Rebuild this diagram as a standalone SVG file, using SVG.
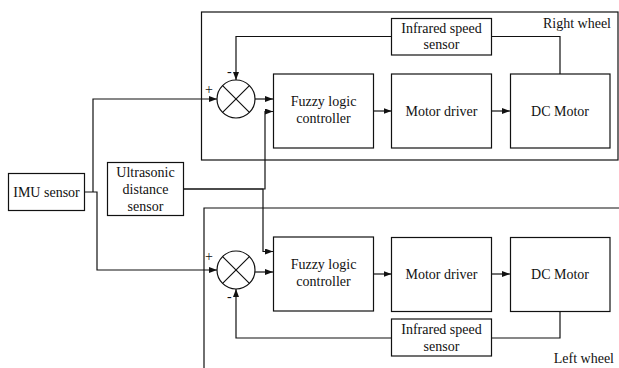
<svg xmlns="http://www.w3.org/2000/svg" width="619" height="368" viewBox="0 0 619 368">
  <defs>
    <marker id="arrow" viewBox="0 0 8 6" refX="8" refY="3" markerWidth="8" markerHeight="6" markerUnits="userSpaceOnUse" orient="auto">
      <path d="M0,0 L8,3 L0,6 Z" fill="#111"/>
    </marker>
    <style>
      .box { fill: #fff; stroke: #111; stroke-width: 1.2; }
      .frame { fill: none; stroke: #111; stroke-width: 1.2; }
      .wire { fill: none; stroke: #111; stroke-width: 1.2; }
      .arr { marker-end: url(#arrow); }
      .sum { fill: #fff; stroke: #111; stroke-width: 1.2; }
    </style>
  </defs>

  <!-- wheel frames -->
  <g id="right-wheel-frame">
    <rect class="frame" x="201.5" y="12" width="416.5" height="148"/>
    <text x="611" y="28" font-family="Liberation Serif" font-size="14" fill="#111" text-anchor="end">Right wheel</text>
  </g>
  <g id="left-wheel-frame">
    <path class="frame" d="M204,368 V208 H619"/>
    <text x="614" y="363" font-family="Liberation Serif" font-size="14" fill="#111" text-anchor="end">Left wheel</text>
  </g>

  <!-- connectors -->
  <g id="connectors">
    <!-- IMU to both summing junctions -->
    <path class="wire arr" d="M93,192 V99 H217"/>
    <path class="wire arr" d="M84,192 H97 V270 H217"/>
    <!-- ultrasonic to both controllers -->
    <path class="wire arr" d="M183,189 H265 V111.5 H273"/>
    <path class="wire arr" d="M183,189 H263 V251.5 H273"/>
    <!-- right wheel chain -->
    <path class="wire arr" d="M255,99 H273"/>
    <path class="wire arr" d="M373,111 H391.5"/>
    <path class="wire arr" d="M491.5,111 H510"/>
    <path class="wire" d="M560,74 V36.5 H491.5"/>
    <path class="wire arr" d="M391.5,36.5 H236 V80"/>
    <!-- left wheel chain -->
    <path class="wire arr" d="M255,272 H273"/>
    <path class="wire arr" d="M373,274 H391.5"/>
    <path class="wire arr" d="M491.5,274 H510"/>
    <path class="wire" d="M560,311 V338 H491.5"/>
    <path class="wire arr" d="M391.5,338 H236 V289"/>
  </g>

  <!-- shared sensors -->
  <g id="imu-sensor">
    <rect class="box" x="8.5" y="173.5" width="76" height="37"/>
    <text x="46.5" y="197" font-family="Liberation Serif" font-size="14" fill="#111" text-anchor="middle">IMU sensor</text>
  </g>
  <g id="ultrasonic-sensor">
    <rect class="box" x="107.5" y="162.5" width="76" height="53"/>
    <text x="145.5" y="177" font-family="Liberation Serif" font-size="14" fill="#111" text-anchor="middle">Ultrasonic</text>
    <text x="145.5" y="194" font-family="Liberation Serif" font-size="14" fill="#111" text-anchor="middle">distance</text>
    <text x="145.5" y="211" font-family="Liberation Serif" font-size="14" fill="#111" text-anchor="middle">sensor</text>
  </g>

  <!-- right wheel loop -->
  <g id="right-sum">
    <circle class="sum" cx="236" cy="99" r="19"/>
    <path class="wire" d="M222.6,85.6 L249.4,112.4 M249.4,85.6 L222.6,112.4"/>
    <text x="205" y="94" font-family="Liberation Serif" font-size="14" fill="#111">+</text>
    <text x="227" y="76" font-family="Liberation Serif" font-size="14" fill="#111">-</text>
  </g>
  <g id="right-fuzzy">
    <rect class="box" x="273.5" y="74" width="100" height="74"/>
    <text x="323.5" y="106" font-family="Liberation Serif" font-size="14" fill="#111" text-anchor="middle">Fuzzy logic</text>
    <text x="323.5" y="123" font-family="Liberation Serif" font-size="14" fill="#111" text-anchor="middle">controller</text>
  </g>
  <g id="right-driver">
    <rect class="box" x="391.5" y="74" width="100" height="74"/>
    <text x="441.5" y="116" font-family="Liberation Serif" font-size="14" fill="#111" text-anchor="middle">Motor driver</text>
  </g>
  <g id="right-motor">
    <rect class="box" x="510.5" y="74" width="99.5" height="74"/>
    <text x="560" y="116" font-family="Liberation Serif" font-size="14" fill="#111" text-anchor="middle">DC Motor</text>
  </g>
  <g id="right-speed-sensor">
    <rect class="box" x="391.5" y="18.5" width="100" height="36.5"/>
    <text x="441.5" y="33" font-family="Liberation Serif" font-size="14" fill="#111" text-anchor="middle">Infrared speed</text>
    <text x="441.5" y="49" font-family="Liberation Serif" font-size="14" fill="#111" text-anchor="middle">sensor</text>
  </g>

  <!-- left wheel loop -->
  <g id="left-sum">
    <circle class="sum" cx="236" cy="270" r="19"/>
    <path class="wire" d="M222.6,256.6 L249.4,283.4 M249.4,256.6 L222.6,283.4"/>
    <text x="205" y="261" font-family="Liberation Serif" font-size="14" fill="#111">+</text>
    <text x="227" y="301" font-family="Liberation Serif" font-size="14" fill="#111">-</text>
  </g>
  <g id="left-fuzzy">
    <rect class="box" x="273.5" y="237" width="100" height="74"/>
    <text x="323.5" y="269" font-family="Liberation Serif" font-size="14" fill="#111" text-anchor="middle">Fuzzy logic</text>
    <text x="323.5" y="286" font-family="Liberation Serif" font-size="14" fill="#111" text-anchor="middle">controller</text>
  </g>
  <g id="left-driver">
    <rect class="box" x="391.5" y="237.5" width="100" height="74"/>
    <text x="441.5" y="279" font-family="Liberation Serif" font-size="14" fill="#111" text-anchor="middle">Motor driver</text>
  </g>
  <g id="left-motor">
    <rect class="box" x="510.5" y="237.5" width="99.5" height="74"/>
    <text x="560" y="279" font-family="Liberation Serif" font-size="14" fill="#111" text-anchor="middle">DC Motor</text>
  </g>
  <g id="left-speed-sensor">
    <rect class="box" x="391.5" y="319" width="100" height="37"/>
    <text x="441.5" y="334" font-family="Liberation Serif" font-size="14" fill="#111" text-anchor="middle">Infrared speed</text>
    <text x="441.5" y="351" font-family="Liberation Serif" font-size="14" fill="#111" text-anchor="middle">sensor</text>
  </g>
</svg>
